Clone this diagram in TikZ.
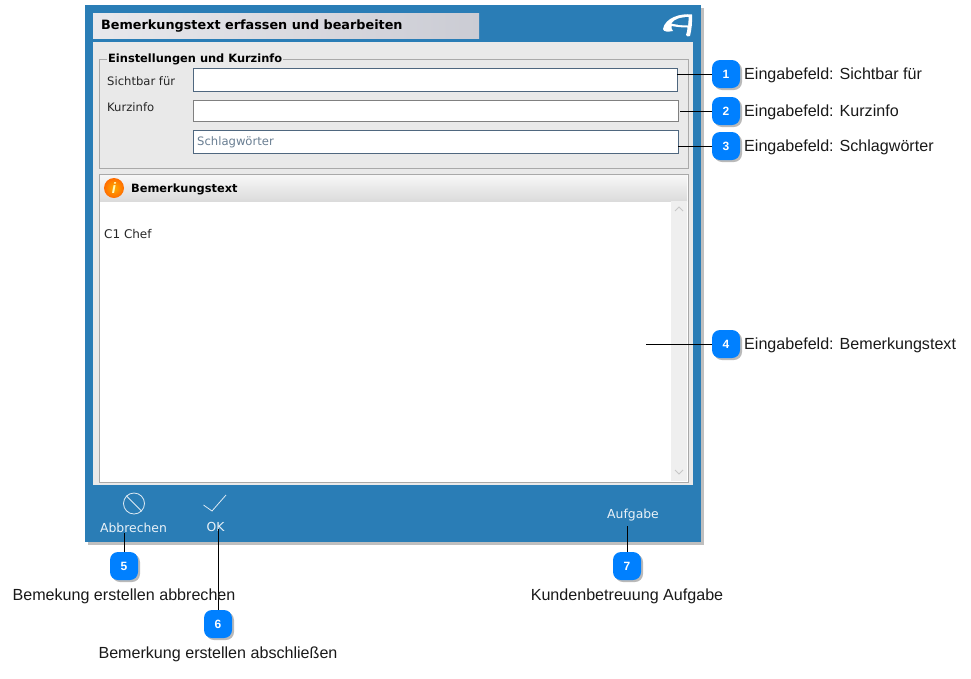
\documentclass[tikz,border=0pt]{standalone}
\usepackage{fontspec}
\setmainfont{Liberation Sans}
\newfontfamily\uifont{DejaVu Sans}
\usetikzlibrary{positioning, shadows}
\definecolor{PanelBlue}{HTML}{2A7DB6}
\definecolor{ContentGrey}{HTML}{E9E9E9}
\definecolor{FrameGrey}{HTML}{A9A9A9}
\definecolor{FieldBlue}{HTML}{4F677F}
\definecolor{BadgeBlue}{HTML}{0080FF}
\definecolor{ScrollGrey}{HTML}{EFEFEF}
\definecolor{TitleLeft}{HTML}{E8E8EC}
\definecolor{TitleRight}{HTML}{CBCCD4}
\tikzset{%
  flat_box/.style={%
    rectangle,%
    anchor=north west,%
    inner sep=0pt,%
    outer sep=0pt,%
  },
  entry_field/.style={%
    flat_box,%
    draw=FieldBlue,%
    line width=0.8pt,%
    fill=white,%
    minimum width=484,%
  },
  ui_label/.style={%
    anchor=west,%
    inner sep=0pt,%
    font={\uifont\fontsize{11.6}{13}\selectfont},%
    text=black!85,%
  },
  ui_heading/.style={%
    ui_label,%
    font={\uifont\bfseries\fontsize{11.4}{13}\selectfont},%
    text=black,%
  },
  bar_label/.style={%
    anchor=center,%
    inner sep=0pt,%
    font={\uifont\fontsize{12.4}{14}\selectfont},%
    text=white!90!PanelBlue,%
  },
  badge/.style={%
    rectangle,%
    rounded corners=8,%
    minimum width=28,%
    minimum height=28,%
    inner sep=0pt,%
    outer sep=0pt,%
    fill=BadgeBlue,%
    text=white,%
    font={\bfseries\fontsize{12}{14}\selectfont},%
    drop shadow={shadow xshift=2pt, shadow yshift=-2pt, opacity=0.55},%
  },
  annotate/.style={%
    inner sep=0pt,%
    text=black!90,%
    font={\fontsize{16.1}{19}\selectfont},%
  },
  callout_path/.style={%
    color=black,%
    line width=0.9pt,%
  },
  bar_icon/.style={%
    color=white!85!PanelBlue,%
    line width=0.8pt,%
  },
}
\begin{document}
\begin{tikzpicture}[x=1pt, y=-1pt]
  \useasboundingbox (0,0) rectangle (971,678);

  % window
  \node [flat_box, fill=PanelBlue, minimum width=616, minimum height=537,
    drop shadow={shadow xshift=2.5pt, shadow yshift=-2.5pt, opacity=0.5}]
    (Window) at (85,5) {};
  \node [flat_box, left color=TitleLeft, right color=TitleRight,
    minimum width=386, minimum height=25] (TitleBar) at (93,13) {};
  \node [ui_heading, font={\uifont\bfseries\fontsize{12.8}{15}\selectfont}]
    (TitleText) at (101,26) {Bemerkungstext erfassen und bearbeiten};
  \node [flat_box, fill=ContentGrey, minimum width=600, minimum height=443]
    (Content) at (93,42) {};

  % logo
  \fill [white] (663,29) .. controls (665,18) and (680,13) .. (692,14.5)
    .. controls (692.5,22) and (691.5,30) .. (690,36)
    .. controls (688.5,37) and (686.5,36.5) .. (686,35)
    .. controls (687,32) and (687.5,30) .. (687.5,27.5)
    .. controls (682,27.5) and (677,27) .. (671.5,26)
    .. controls (671,27.5) and (671.5,29) .. (673,31)
    .. controls (668,32) and (663.5,32) .. (663,29) -- cycle;
  \fill [PanelBlue] (671.5,23.5) .. controls (674,19) and (681,17) .. (688.5,17)
    .. controls (688.7,19) and (688.4,23) .. (688,25.5)
    .. controls (682,25.5) and (677,24.8) .. (671.5,23.5) -- cycle;

  % settings group
  \node [flat_box, draw=FrameGrey, line width=0.8pt,
    minimum width=589, minimum height=109] (Group) at (99,59) {};
  \node [ui_heading, fill=ContentGrey, inner xsep=1pt] (GroupTitle) at (107,59.5)
    {Einstellungen und Kurzinfo};
  \node [ui_label] (LabelSichtbar) at (107,81.5) {Sichtbar für};
  \node [ui_label] (LabelKurzinfo) at (107,107.5) {Kurzinfo};
  \node [entry_field, minimum height=23] (FieldSichtbar) at (193,68) {};
  \node [entry_field, draw=black!50, minimum width=485, minimum height=21] (FieldKurzinfo) at (193,100) {};
  \node [entry_field, minimum width=485, minimum height=23] (FieldSchlag) at (193,130) {};
  \node [ui_label, text=FieldBlue!85, right = 4 of FieldSchlag.west, yshift=-1pt] (TextSchlag) {Schlagwörter};

  % text area
  \node [flat_box, fill=white, draw=FrameGrey, line width=0.8pt,
    minimum width=589, minimum height=308] (TextArea) at (99,174) {};
  \node [flat_box, top color=white!97!black, bottom color=black!14,
    minimum width=587, minimum height=26] (TextHeader) at (100,175) {};
  \node [flat_box, fill=ScrollGrey, minimum width=16, minimum height=280] (Scroll) at (671,201) {};
  \draw [black!22, line width=1pt] (675,211) -- (679,207) -- (683,211);
  \draw [black!22, line width=1pt] (675,470) -- (679,474) -- (683,470);
  \node [circle, inner sep=0pt, minimum size=20, inner color=orange!65!yellow, outer color=orange!85!red] (InfoIcon) at (114,188) {};
  \node [text=white!75!yellow, inner sep=0pt, font={\bfseries\itshape\fontsize{15}{15}\selectfont}] (InfoMark) at (InfoIcon) {i};
  \node [ui_heading] (TextHeading) at (131,189) {Bemerkungstext};
  \node [ui_label, font={\uifont\fontsize{12}{14}\selectfont}] (TextBody) at (104,234.5) {C1 Chef};

  % bottom bar
  \node [circle, bar_icon, draw, minimum size=21, inner sep=0pt] (CancelIcon) at (134,503.5) {};
  \draw [bar_icon] (CancelIcon.north west) -- (CancelIcon.south east);
  \draw [bar_icon] (203.5,505) -- (212,511) -- (226,495);
  \node [bar_label] (Abbrechen) at (133.5,528) {Abbrechen};
  \node [bar_label] (Ok) at (215.5,527) {OK};
  \node [bar_label] (Aufgabe) at (633,515) {Aufgabe};

  % callouts
  \node [badge] (Badge1) at (726,74) {1};
  \node [badge] (Badge2) at (726,111) {2};
  \node [badge] (Badge3) at (726,146) {3};
  \node [badge] (Badge4) at (726,344) {4};
  \node [badge] (Badge5) at (124,566) {5};
  \node [badge] (Badge6) at (218,624) {6};
  \node [badge] (Badge7) at (627,566) {7};

  \coordinate (end2) at (680,111);
  \coordinate (end4) at (646,344);
  \coordinate (end5) at (124,533);
  \coordinate (end6) at (218,529);
  \coordinate (end7) at (627,526);

  \draw [callout_path] (Badge1.west) -- (FieldSichtbar.east |- Badge1.west);
  \draw [callout_path] (Badge2.west) -- (end2);
  \draw [callout_path] (Badge3.west) -- (FieldSchlag.east |- Badge3.west);
  \draw [callout_path] (Badge4.west) -- (end4);
  \draw [callout_path] (Badge5.north) -- (end5);
  \draw [callout_path] (Badge6.north) -- (end6);
  \draw [callout_path] (Badge7.north) -- (end7);

  \node [annotate, right = 4 of Badge1, yshift=-1.5pt] (Note1) {Eingabefeld: Sichtbar für};
  \node [annotate, right = 4 of Badge2, yshift=-1.5pt] (Note2) {Eingabefeld: Kurzinfo};
  \node [annotate, right = 4 of Badge3, yshift=-1.5pt] (Note3) {Eingabefeld: Schlagwörter};
  \node [annotate, right = 4 of Badge4, yshift=-1.5pt] (Note4) {Eingabefeld: Bemerkungstext};
  \node [annotate, below = 8.5pt of Badge5] (Note5) {Bemekung erstellen abbrechen};
  \node [annotate, below = 8.5pt of Badge6] (Note6) {Bemerkung erstellen abschließen};
  \node [annotate, below = 8.5pt of Badge7] (Note7) {Kundenbetreuung Aufgabe};
\end{tikzpicture}
\end{document}
